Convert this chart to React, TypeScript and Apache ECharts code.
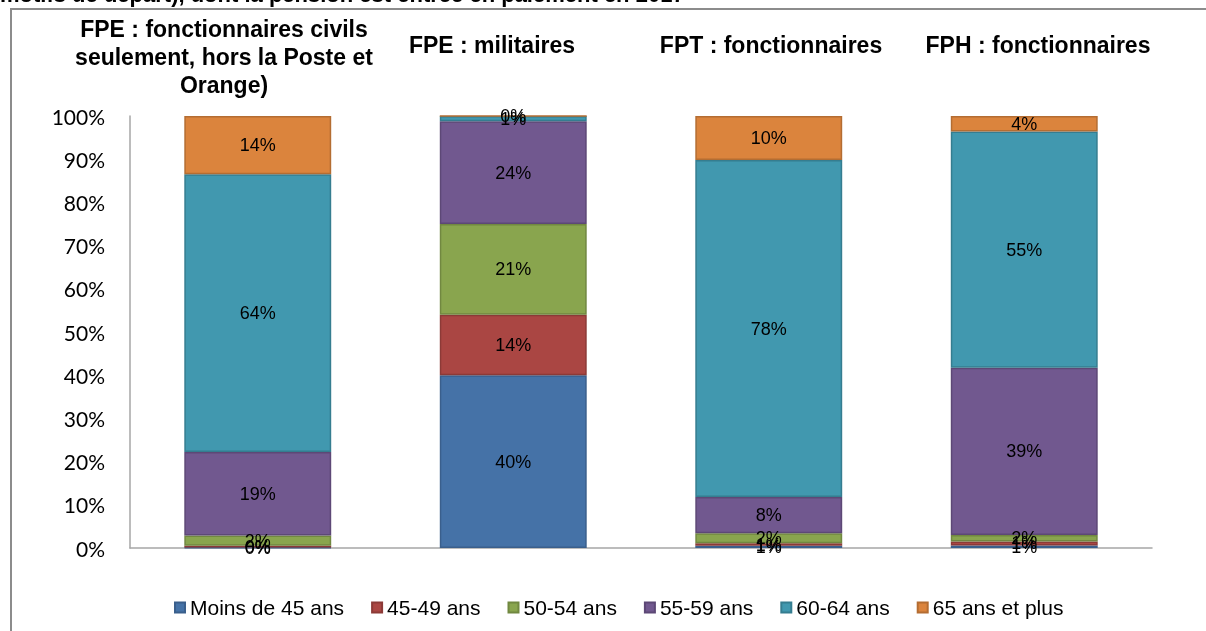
import React, { useEffect, useRef } from "react";
import * as echarts from "echarts";

const categories = ["FPE civils", "FPE militaires", "FPT", "FPH"];
const headers = [
  "FPE : fonctionnaires civils\nseulement, hors la Poste et\nOrange)",
  "FPE : militaires",
  "FPT : fonctionnaires",
  "FPH : fonctionnaires",
];
const seriesNames = ["Moins de 45 ans", "45-49 ans", "50-54 ans", "55-59 ans", "60-64 ans", "65 ans et plus"];
const moins45 = [0.1, 40.0, 0.5, 0.6];
const a4549 = [0.4, 14.0, 0.6, 0.9];
const a5054 = [2.4, 21.0, 2.3, 1.5];
const a5559 = [19.3, 23.8, 8.4, 38.7];
const a6064 = [64.3, 1.2, 78.0, 54.7];
const a65plus = [13.5, 0.0, 10.2, 3.6];
const yTicks = [0, 10, 20, 30, 40, 50, 60, 70, 80, 90, 100];
const topTitle = "motifs de départ), dont la pension est entrée en paiement en 2017";

const fills = ["#4572A7", "#AA4643", "#89A54E", "#71588F", "#4198AF", "#DB843D"];
const borders = ["#3A5F8C", "#8C3A37", "#718840", "#5D4876", "#357D90", "#B46D32"];

export default function App() {
  const ref = useRef<HTMLDivElement>(null);
  useEffect(() => {
    if (!ref.current) return;
    const chart = echarts.init(ref.current, null, { renderer: "svg" });
    const values = [moins45, a4549, a5054, a5559, a6064, a65plus];
    const headerX = [224, 492, 771, 1038];
    const graphics: any[] = [
      {
        type: "rect",
        shape: { x: 11, y: 9, width: 1230, height: 660 },
        style: { fill: "none", stroke: "#8c8c8c", lineWidth: 2 },
        z: 0,
      },
      {
        type: "text",
        x: 0,
        y: 5,
        style: {
          text: topTitle,
          font: "bold 22px 'Liberation Sans', Arial, sans-serif",
          fill: "#000",
          align: "left",
          verticalAlign: "bottom",
        },
        z: 1,
      },
    ];
    headers.forEach((h, i) => {
      const multi = h.indexOf("\n") >= 0;
      graphics.push({
        type: "text",
        x: headerX[i],
        y: multi ? 57 : 45,
        style: {
          text: h,
          font: "bold 23px 'Liberation Sans', Arial, sans-serif",
          fill: "#000",
          align: "center",
          verticalAlign: "middle",
          lineHeight: 28,
        },
        z: 2,
      });
    });
    chart.setOption({
      animation: false,
      graphic: graphics,
      grid: { left: 130, right: 54, top: 116, bottom: 83, containLabel: false },
      legend: {
        left: 169,
        top: 592,
        icon: "rect",
        itemWidth: 10,
        itemHeight: 10,
        itemGap: 27,
        textStyle: { fontFamily: "'Liberation Sans', Arial, sans-serif", fontSize: 21, color: "#000" },
        data: seriesNames,
      },
      xAxis: {
        type: "category",
        data: categories,
        axisLine: { show: true, lineStyle: { color: "#a6a6a6", width: 1.5 } },
        axisTick: { show: false },
        axisLabel: { show: false },
      },
      yAxis: {
        type: "value",
        min: yTicks[0],
        max: yTicks[yTicks.length - 1],
        interval: 10,
        axisLine: { show: true, lineStyle: { color: "#a6a6a6", width: 1.5 } },
        axisTick: { show: false },
        splitLine: { show: false },
        axisLabel: {
          formatter: "{value}%",
          margin: 25,
          color: "#000",
          fontFamily: "Lato, 'Liberation Sans', sans-serif",
          fontSize: 21,
        },
      },
      series: seriesNames.map((name, i) => ({
        name,
        type: "bar",
        stack: "total",
        barWidth: "57.5%",
        data: values[i],
        itemStyle: { color: fills[i], borderColor: borders[i], borderWidth: 1.5 },
        label: {
          show: true,
          position: "inside",
          color: "#000",
          fontFamily: "'Liberation Sans', Arial, sans-serif",
          fontSize: 18,
          formatter: (p: any) => Math.round(p.value) + "%",
        },
      })),
    });
    return () => chart.dispose();
  }, []);
  return <div ref={ref} style={{ position: "fixed", left: 0, top: 0, width: 1206, height: 631 }} />;
}
